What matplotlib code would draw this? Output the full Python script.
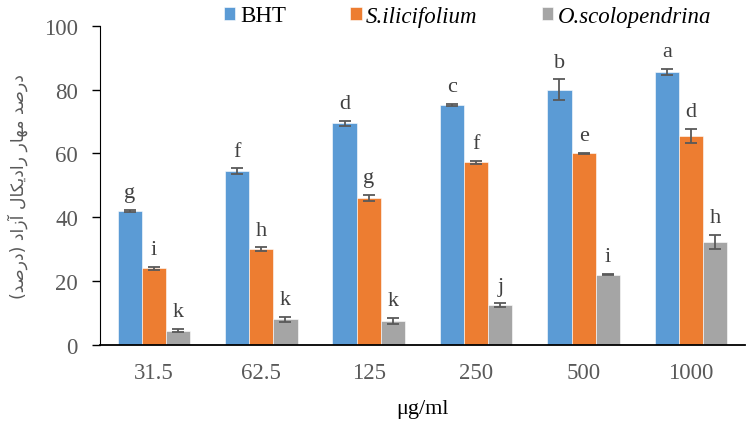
import numpy as np
import matplotlib.pyplot as plt

# Data
concentrations = ['31.5', '62.5', '125', '250', '500', '1000']
series_names = ['BHT', 'S.ilicifolium', 'O.scolopendrina']
bht = [42.0, 54.5, 69.5, 75.2, 80.0, 85.5]
bht_err = [0.3, 0.8, 0.8, 0.3, 3.2, 1.0]
sil = [24.0, 30.0, 46.0, 57.3, 60.0, 65.5]
sil_err = [0.5, 0.6, 1.0, 0.5, 0.2, 2.2]
osc = [4.5, 8.0, 7.5, 12.5, 22.0, 32.2]
osc_err = [0.6, 0.7, 1.0, 0.5, 0.2, 2.3]
bht_letters = ['g', 'f', 'd', 'c', 'b', 'a']
sil_letters = ['i', 'h', 'g', 'f', 'e', 'd']
osc_letters = ['k', 'k', 'k', 'j', 'i', 'h']
ylabel_fa = 'درصد مهار رادیکال آزاد (درصد)'

colors = ['#5B9BD5', '#ED7D31', '#A5A5A5']
dark = '#595959'

# matplotlib has no Arabic shaping, so map letters to presentation forms by hand
forms = {
    'د': ('\uFEA9', '\uFEAA', None, None),
    'ر': ('\uFEAD', '\uFEAE', None, None),
    'ز': ('\uFEAF', '\uFEB0', None, None),
    'ا': ('\uFE8D', '\uFE8E', None, None),
    'آ': ('\uFE81', '\uFE82', None, None),
    'ص': ('\uFEB9', '\uFEBA', '\uFEBB', '\uFEBC'),
    'م': ('\uFEE1', '\uFEE2', '\uFEE3', '\uFEE4'),
    'ه': ('\uFEE9', '\uFEEA', '\uFEEB', '\uFEEC'),
    'ل': ('\uFEDD', '\uFEDE', '\uFEDF', '\uFEE0'),
    'ی': ('\uFBFC', '\uFBFD', '\uFBFE', '\uFBFF'),
    'ک': ('\uFB8E', '\uFB8F', '\uFB90', '\uFB91'),
}


def shape(text):
    out = []
    for i, ch in enumerate(text):
        if ch not in forms:
            out.append(ch)
            continue
        prev = text[i - 1] if i > 0 else ''
        nxt = text[i + 1] if i + 1 < len(text) else ''
        join_prev = prev in forms and forms[prev][2] is not None
        join_next = nxt in forms and forms[ch][2] is not None
        iso, fin, ini, med = forms[ch]
        if join_prev and join_next:
            out.append(med)
        elif join_prev:
            out.append(fin)
        elif join_next:
            out.append(ini)
        else:
            out.append(iso)
    vis = ''.join(reversed(out))
    return vis.translate(str.maketrans('()', ')('))


plt.rcParams['font.family'] = ['Liberation Serif', 'DejaVu Serif']

fig = plt.figure(figsize=(7.47, 4.27), dpi=100)
ax = fig.add_axes([0.134, 0.19, 0.863, 0.747])

x = np.arange(len(concentrations))
w = 0.225
all_vals = [bht, sil, osc]
all_err = [bht_err, sil_err, osc_err]
all_letters = [bht_letters, sil_letters, osc_letters]

for k in range(3):
    pos = x + (k - 1) * w
    ax.bar(pos, all_vals[k], w, color=colors[k], edgecolor='white', linewidth=0.4,
           label=series_names[k], zorder=2)
    ax.errorbar(pos, all_vals[k], yerr=all_err[k], fmt='none', ecolor=dark,
                elinewidth=1.3, capsize=4, capthick=1.3, zorder=3)
    for p, v, e, t in zip(pos, all_vals[k], all_err[k], all_letters[k]):
        ax.text(p, v + e + 4, t, ha='center', va='baseline', fontsize=16, color='#404040')

ax.set_xlim(-0.5, 5.5)
ax.set_ylim(0, 100)
ax.set_yticks([0, 20, 40, 60, 80, 100])
ax.set_xticks(x)
ax.set_xticklabels(concentrations)
ax.tick_params(axis='x', length=0, pad=12, labelsize=16.5, labelcolor=dark)
ax.tick_params(axis='y', length=6, width=1, direction='out', pad=10, labelsize=16.5,
               labelcolor=dark, color='black')
ax.spines['top'].set_visible(False)
ax.spines['right'].set_visible(False)
ax.spines['left'].set_color('black')
ax.spines['bottom'].set_color('black')
ax.spines['bottom'].set_linewidth(1.3)

ax.set_xlabel('μg/ml', fontsize=16, va='center')
ax.xaxis.set_label_coords(0.5, -64 / 319)
ax.set_ylabel(shape(ylabel_fa), fontsize=12.5, color=dark, family='DejaVu Sans', va='center')
ax.yaxis.set_label_coords(-82 / 645, 0.5)

leg = fig.legend(loc='center', bbox_to_anchor=(0.626, 1 - 17 / 427), ncol=3, frameon=False,
                 fontsize=16.5, handlelength=0.5, handleheight=0.5, columnspacing=2.8,
                 handletextpad=0.2, borderpad=0, borderaxespad=0)
for i, txt in enumerate(leg.get_texts()):
    if i > 0:
        txt.set_style('italic')

fig.savefig('out.png', dpi=100)
